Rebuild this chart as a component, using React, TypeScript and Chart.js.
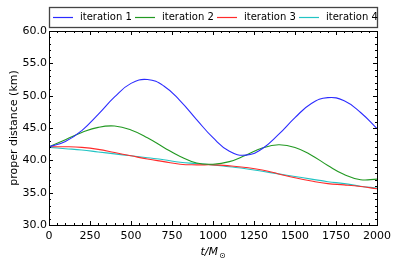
import { useEffect, useRef } from 'react';
import { Chart, registerables } from 'chart.js';

Chart.register(...registerables);

const times = [0, 100, 200, 300, 400, 500, 600, 700, 800, 900, 1000, 1100, 1200, 1300, 1400, 1500, 1600, 1700, 1800, 1900, 2000];
const iteration1 = [42.1, 42.9, 44.6, 47.1, 49.8, 51.9, 52.5, 51.5, 49.2, 46.3, 43.5, 41.4, 40.8, 41.8, 44.0, 46.6, 48.8, 49.7, 49.2, 47.4, 44.9];
const iteration2 = [42.1, 43.2, 44.3, 45.1, 45.3, 44.7, 43.5, 42.0, 40.6, 39.6, 39.4, 39.8, 40.8, 41.9, 42.4, 42.0, 40.8, 39.2, 37.8, 37.0, 37.1];
const iteration3 = [42.1, 42.1, 42.0, 41.7, 41.2, 40.7, 40.2, 39.8, 39.4, 39.3, 39.3, 39.15, 38.9, 38.5, 37.9, 37.3, 36.8, 36.4, 36.2, 35.95, 35.6];
const iteration4 = [42.0, 41.8, 41.6, 41.3, 41.0, 40.7, 40.4, 40.1, 39.7, 39.5, 39.3, 39.0, 38.7, 38.3, 37.9, 37.5, 37.1, 36.7, 36.4, 36.0, 35.7];
const seriesLabels = ['iteration 1', 'iteration 2', 'iteration 3', 'iteration 4'];
const seriesColors = ['#2b2bff', '#229922', '#ff2b2b', '#22c4c4'];
const xTickValues = [0, 250, 500, 750, 1000, 1250, 1500, 1750, 2000];
const yTickValues = [30, 35, 40, 45, 50, 55, 60];
const xMinorStep = 50;
const yMinorStep = 1;

const FONT = 'DejaVu Sans';

const framePlugin = {
  id: 'framePlugin',
  afterDatasetsDraw(chart: any) {
    const { ctx, chartArea, scales } = chart;
    const { left, right, top, bottom } = chartArea;
    const x = scales.x;
    const y = scales.y;
    ctx.save();
    ctx.strokeStyle = '#000';
    ctx.lineWidth = 1;
    const seg = (x1: number, y1: number, x2: number, y2: number) => {
      ctx.beginPath();
      ctx.moveTo(x1, y1);
      ctx.lineTo(x2, y2);
      ctx.stroke();
    };
    for (let v = x.min; v <= x.max + 1e-6; v += xMinorStep) {
      const px = Math.round(x.getPixelForValue(v)) + 0.5;
      const major = xTickValues.includes(v);
      const len = major ? 4 : 2;
      seg(px, bottom, px, bottom - len);
      seg(px, top, px, top + len);
    }
    for (let v = y.min; v <= y.max + 1e-6; v += yMinorStep) {
      const py = Math.round(y.getPixelForValue(v)) + 0.5;
      const major = yTickValues.includes(Math.round(v * 10) / 10);
      const len = major ? 4 : 2;
      seg(left, py, left + len, py);
      seg(right, py, right - len, py);
    }
    ctx.strokeRect(Math.round(left) + 0.5, Math.round(top) + 0.5, Math.round(right - left), Math.round(bottom - top));

    // x axis title: t/M with sun subscript
    const mid = (left + right) / 2;
    ctx.fillStyle = '#000';
    ctx.textBaseline = 'alphabetic';
    ctx.font = `italic 11px "${FONT}"`;
    const mainText = 't/M';
    const wMain = ctx.measureText(mainText).width;
    ctx.font = `8px "${FONT}"`;
    const subText = '\u2299';
    const wSub = ctx.measureText(subText).width;
    const start = mid - (wMain + wSub + 1) / 2;
    ctx.font = `italic 11px "${FONT}"`;
    ctx.textAlign = 'left';
    ctx.fillText(mainText, start, 255);
    ctx.font = `8px "${FONT}"`;
    ctx.fillText(subText, start + wMain + 1, 258);

    // legend
    const ly1 = 7;
    const ly2 = 27;
    ctx.fillStyle = '#fff';
    ctx.fillRect(left, ly1, right - left, ly2 - ly1);
    ctx.strokeStyle = '#444';
    ctx.lineWidth = 1.3;
    ctx.strokeRect(Math.round(left) + 0.5, ly1 + 0.5, Math.round(right - left), ly2 - ly1);
    const n = seriesLabels.length;
    const itemW = (right - left) / n;
    ctx.font = `10px "${FONT}"`;
    ctx.textBaseline = 'middle';
    for (let i = 0; i < n; i++) {
      const sx = Math.round(left + 4 + i * itemW);
      const cy = 17.5;
      ctx.strokeStyle = seriesColors[i];
      ctx.lineWidth = 1.2;
      seg(sx, cy, sx + 20, cy);
      ctx.fillStyle = '#000';
      ctx.fillText(seriesLabels[i], sx + 27, cy);
    }
    ctx.restore();
  },
};

export default function App() {
  const canvasRef = useRef<HTMLCanvasElement | null>(null);

  useEffect(() => {
    if (!canvasRef.current) return;
    const series = [iteration1, iteration2, iteration3, iteration4];
    const chart = new Chart(canvasRef.current, {
      type: 'line',
      data: {
        labels: times,
        datasets: series.map((vals, i) => ({
          label: seriesLabels[i],
          data: vals.map((v, j) => ({ x: times[j], y: v })),
          borderColor: seriesColors[i],
          backgroundColor: seriesColors[i],
          borderWidth: 1.1,
          pointRadius: 0,
          tension: 0.45,
          fill: false,
        })),
      },
      options: {
        responsive: false,
        animation: false,
        events: [],
        layout: { padding: { top: 31, right: 22, left: 0, bottom: 0 } },
        plugins: {
          legend: { display: false },
          tooltip: { enabled: false },
        },
        scales: {
          x: {
            type: 'linear',
            min: 0,
            max: 2000,
            afterFit(s: any) {
              s.height = 42;
            },
            afterBuildTicks(s: any) {
              s.ticks = xTickValues.map((v) => ({ value: v }));
            },
            ticks: {
              color: '#000',
              font: { family: FONT, size: 11 },
              padding: 5,
              maxRotation: 0,
              autoSkip: false,
              callback: (v: any) => String(v),
            },
            grid: { display: false, drawTicks: false },
            border: { display: false },
          },
          y: {
            type: 'linear',
            min: 30,
            max: 60,
            afterFit(s: any) {
              s.width = 49;
            },
            afterBuildTicks(s: any) {
              s.ticks = yTickValues.map((v) => ({ value: v }));
            },
            ticks: {
              color: '#000',
              font: { family: FONT, size: 11 },
              padding: 2,
              autoSkip: false,
              callback: (v: any) => Number(v).toFixed(1),
            },
            grid: { display: false, drawTicks: false },
            border: { display: false },
            title: {
              display: true,
              text: 'proper distance (km)',
              color: '#000',
              font: { family: FONT, size: 11 },
              padding: { top: 8, bottom: 0 },
            },
          },
        },
      },
      plugins: [framePlugin],
    });
    return () => chart.destroy();
  }, []);

  return (
    <div style={{ position: 'fixed', left: 0, top: 0, width: 399, height: 267, background: '#fff' }}>
      <canvas ref={canvasRef} width={399} height={267} style={{ display: 'block' }} />
    </div>
  );
}
